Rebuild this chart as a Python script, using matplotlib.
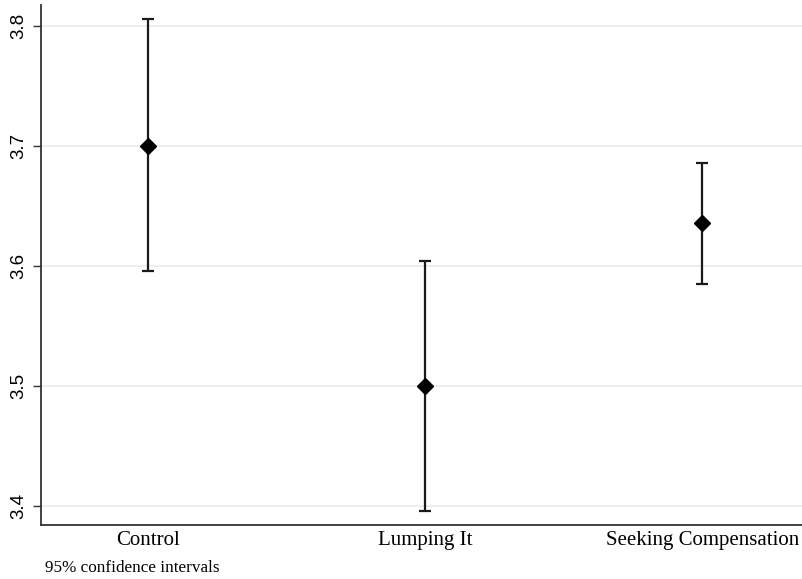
import matplotlib
matplotlib.use("Agg")
import matplotlib.pyplot as plt

# Group means with 95% confidence bounds
groups = ["Control", "Lumping It", "Seeking Compensation"]
means = [3.700, 3.500, 3.636]
ci_lower = [3.596, 3.396, 3.585]
ci_upper = [3.806, 3.604, 3.686]
y_ticks = [3.4, 3.5, 3.6, 3.7, 3.8]
note = "95% confidence intervals"

fig = plt.figure(figsize=(8.02, 5.79), dpi=100)
ax = fig.add_axes([0.0511, 0.0933, 0.9489, 0.8981])

positions = list(range(1, len(groups) + 1))
err_low = [m - lo for m, lo in zip(means, ci_lower)]
err_high = [hi - m for m, hi in zip(means, ci_upper)]

ax.errorbar(positions, means, yerr=[err_low, err_high], fmt="D",
            color="black", ecolor="#1a1a1a", elinewidth=1.6,
            capsize=4.5, capthick=1.6, markersize=8.5, zorder=3)

ax.set_xlim(0.614, 3.36)
ax.set_ylim(3.384, 3.8175)
ax.set_yticks(y_ticks)
ax.set_yticklabels([f"{v:.1f}" for v in y_ticks], rotation=90, va="center",
                   fontsize=13.5, family=["Liberation Sans", "DejaVu Sans"])
ax.set_xticks(positions)
ax.set_xticklabels(groups, fontsize=15, family=["Liberation Serif", "DejaVu Serif"])
ax.tick_params(axis="x", length=0, pad=4)
ax.tick_params(axis="y", length=6, width=1.0, pad=4, color="#333333")

ax.grid(axis="y", color="#e4eef1", linewidth=1.3, zorder=0)
ax.set_axisbelow(True)

for side in ("top", "right"):
    ax.spines[side].set_visible(False)
for side in ("left", "bottom"):
    ax.spines[side].set_color("#333333")
    ax.spines[side].set_linewidth(1.3)

fig.text(45 / 802, 1 - 568 / 579, note, fontsize=12.3, va="center", ha="left",
         family=["Liberation Serif", "DejaVu Serif"])

fig.savefig("out.png", dpi=100)
